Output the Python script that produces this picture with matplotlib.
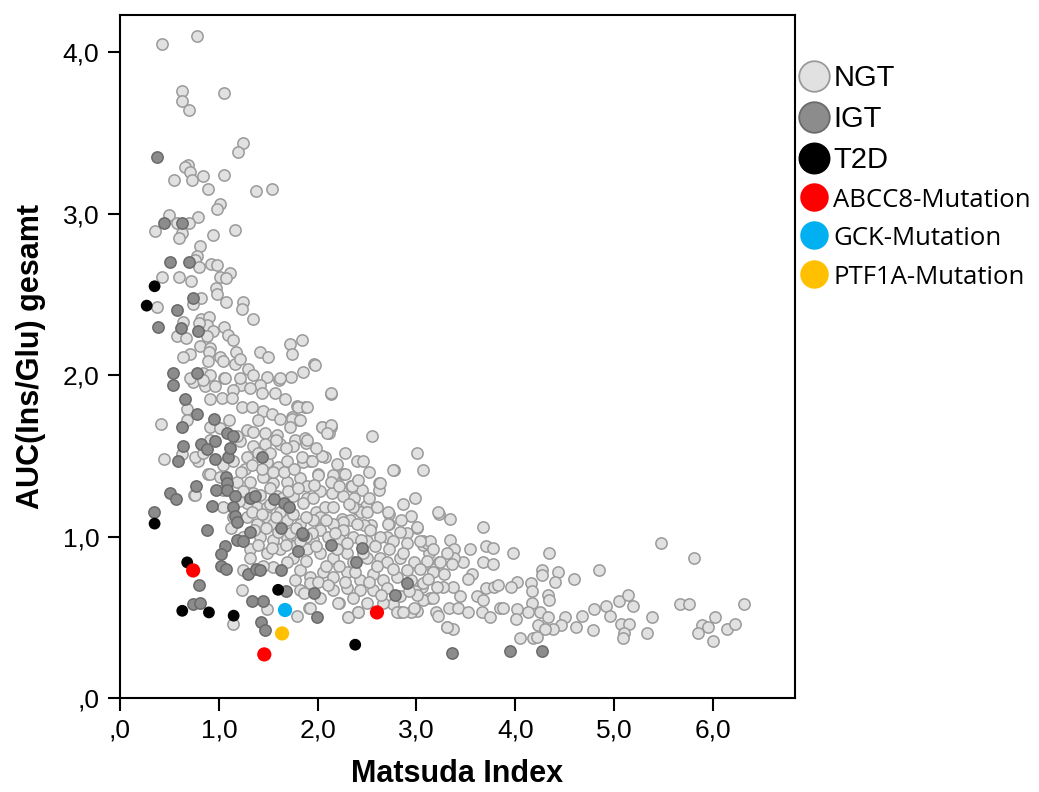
import numpy as np
import matplotlib
matplotlib.use("Agg")
import matplotlib.pyplot as plt
from matplotlib.lines import Line2D

plt.rcParams['font.family'] = ['Liberation Sans', 'DejaVu Sans']

# Daten: (Matsuda Index, AUC(Ins/Glu) gesamt)
ngt_points = [
    (0.43, 4.05), (0.78, 4.10), (0.63, 3.76), (0.63, 3.70), (0.70, 3.64), (1.05, 3.75),
    (1.24, 3.44), (1.19, 3.38), (0.69, 3.30), (0.66, 3.29), (0.71, 3.26), (0.73, 3.21),
    (0.55, 3.21), (0.84, 3.23), (1.05, 3.24), (0.89, 3.15), (1.38, 3.14), (1.54, 3.15),
    (1.01, 3.06), (0.98, 3.03), (0.50, 2.99), (0.79, 2.98), (0.35, 2.89), (0.58, 2.94),
    (0.70, 2.94), (0.63, 2.88), (0.60, 2.85), (0.94, 2.87), (1.16, 2.90), (0.81, 2.80),
    (0.78, 2.74), (0.76, 2.71), (0.80, 2.67), (0.92, 2.69), (0.98, 2.68), (1.11, 2.63),
    (1.01, 2.61), (1.07, 2.60), (0.43, 2.61), (0.60, 2.61), (0.72, 2.58), (0.97, 2.54),
    (0.98, 2.50), (0.82, 2.48), (0.74, 2.44), (1.07, 2.45), (1.24, 2.45), (1.23, 2.41),
    (0.37, 2.42), (1.35, 2.35), (0.64, 2.33), (0.82, 2.35), (0.90, 2.36), (0.88, 2.31),
    (0.80, 2.32), (1.05, 2.30), (0.58, 2.24), (0.67, 2.23), (0.94, 2.27), (0.88, 2.24),
    (1.09, 2.25), (1.14, 2.22), (0.81, 2.18), (0.91, 2.17), (0.71, 2.13), (0.64, 2.11),
    (0.90, 2.14), (0.89, 2.09), (1.01, 2.11), (1.04, 2.09), (1.17, 2.14), (1.16, 2.07),
    (1.21, 2.10), (1.42, 2.14), (1.50, 2.11), (1.72, 2.19), (1.84, 2.22), (1.74, 2.13),
    (1.96, 2.07), (1.85, 2.02), (1.73, 1.99), (1.61, 1.97), (1.49, 1.99), (1.30, 2.04),
    (1.35, 2.00), (0.84, 2.01), (0.91, 2.00), (1.05, 1.98), (0.74, 1.96), (0.86, 1.93),
    (1.22, 1.94), (1.42, 1.94), (0.41, 1.70), (0.45, 1.48), (0.75, 1.26), (0.63, 1.51),
    (0.79, 1.47), (0.89, 1.39), (0.68, 1.79),
    (2.14, 1.88), (1.79, 1.81), (1.87, 1.80), (2.04, 1.68), (2.14, 1.68), (2.11, 1.64),
    (2.55, 1.62), (3.01, 1.52), (3.07, 1.41), (2.77, 1.41), (2.40, 1.47), (2.46, 1.47),
    (2.62, 1.33), (2.62, 1.29), (2.26, 1.39), (2.18, 1.34), (2.40, 1.34), (2.34, 1.31),
    (2.45, 1.29), (2.37, 1.24), (2.04, 1.50), (2.07, 1.49), (1.92, 1.47), (1.85, 1.46),
    (2.00, 1.39), (1.77, 1.60), (1.88, 1.60), (1.88, 1.58), (1.81, 1.72), (1.74, 1.74),
    (2.49, 1.19), (2.40, 1.17), (2.44, 1.15), (2.25, 1.11), (2.33, 1.10), (2.72, 1.14),
    (2.72, 1.08), (3.23, 1.14), (3.34, 1.11), (3.01, 1.05), (2.90, 1.02), (3.34, 0.98),
    (3.67, 1.06), (3.70, 0.94), (3.54, 0.92), (3.07, 0.97), (2.54, 1.07), (2.47, 1.07),
    (2.15, 1.27), (2.02, 1.28), (1.89, 1.24), (1.98, 1.15), (2.07, 1.18), (2.26, 1.09),
    (3.77, 0.93), (3.38, 0.92), (3.67, 0.84), (3.77, 0.83), (3.47, 0.84), (3.38, 0.87),
    (3.36, 0.83), (3.23, 0.84), (3.13, 0.90), (3.07, 0.95), (3.11, 0.96), (3.17, 0.80),
    (3.17, 0.78), (3.28, 0.77), (3.56, 0.77), (3.52, 0.74), (3.70, 0.68), (3.78, 0.69),
    (3.82, 0.70), (3.61, 0.63), (3.67, 0.61), (3.44, 0.63), (3.37, 0.69), (3.27, 0.69),
    (3.14, 0.62), (3.20, 0.53), (3.33, 0.56), (3.42, 0.56), (3.52, 0.53), (3.66, 0.53),
    (3.74, 0.50), (3.84, 0.56), (3.31, 0.44), (3.37, 0.43), (3.01, 0.54), (2.94, 0.53),
    (2.83, 0.53), (2.31, 0.50), (2.41, 0.53), (2.22, 0.59), (2.76, 0.58), (3.06, 0.69),
    (2.99, 0.66), (3.07, 0.61), (1.91, 0.56),
    (3.98, 0.90), (4.34, 0.90), (4.27, 0.79), (4.27, 0.76), (4.43, 0.78), (4.40, 0.72),
    (4.59, 0.74), (4.85, 0.79), (5.47, 0.96), (5.81, 0.87), (4.02, 0.72), (3.96, 0.69),
    (4.16, 0.71), (4.17, 0.66), (4.33, 0.64), (4.34, 0.61), (4.17, 0.59), (3.88, 0.56),
    (4.02, 0.55), (4.13, 0.53), (4.25, 0.53), (4.01, 0.49), (4.33, 0.50), (4.23, 0.45),
    (4.50, 0.50), (4.46, 0.45), (4.38, 0.43), (4.30, 0.43), (4.67, 0.51), (4.61, 0.44),
    (4.80, 0.55), (4.92, 0.57), (4.96, 0.51), (5.05, 0.60), (5.14, 0.64), (5.19, 0.57),
    (4.79, 0.42), (5.07, 0.46), (5.15, 0.46), (5.10, 0.40), (5.09, 0.37), (5.38, 0.50),
    (5.33, 0.40), (5.67, 0.58), (5.76, 0.58), (6.31, 0.58), (6.02, 0.50), (5.89, 0.45),
    (5.95, 0.44), (5.85, 0.40), (6.00, 0.35), (6.14, 0.43), (6.22, 0.46), (4.05, 0.37),
    (4.18, 0.37), (4.22, 0.38),
    (0.71, 1.98), (0.84, 1.97), (1.06, 1.98), (1.21, 1.98), (1.62, 1.98), (1.97, 2.06),
    (0.96, 1.93), (1.14, 1.91), (1.32, 1.92), (1.44, 1.89), (1.57, 1.89), (1.67, 1.85),
    (1.80, 1.80), (1.89, 1.80), (2.13, 1.89), (0.91, 1.85), (1.03, 1.86), (1.13, 1.86),
    (1.23, 1.80), (1.34, 1.80), (1.45, 1.78), (1.54, 1.76), (1.62, 1.73), (1.74, 1.73),
    (1.82, 1.72), (0.68, 1.72), (0.91, 1.68), (1.01, 1.67), (1.28, 1.66), (1.35, 1.65),
    (1.47, 1.64), (1.59, 1.63), (1.72, 1.68), (1.87, 1.61), (2.04, 1.68), (2.13, 1.69),
    (2.09, 1.64), (0.91, 1.60), (1.21, 1.59), (1.35, 1.56), (1.47, 1.57), (1.62, 1.57),
    (1.75, 1.56), (1.89, 1.60), (0.76, 1.49), (0.84, 1.52), (0.91, 1.39), (1.04, 1.44),
    (1.14, 1.47), (1.28, 1.49), (1.49, 1.46), (1.60, 1.43), (1.69, 1.47), (1.84, 1.49),
    (1.94, 1.47), (2.04, 1.50), (2.16, 1.38), (2.28, 1.39), (2.76, 1.41), (1.01, 1.37),
    (1.18, 1.34), (1.32, 1.34), (1.45, 1.37), (1.55, 1.33), (1.69, 1.34), (1.82, 1.36),
    (1.89, 1.31), (2.00, 1.38), (2.13, 1.34), (2.35, 1.31), (2.41, 1.35), (2.63, 1.33),
    (0.76, 1.26), (1.04, 1.29), (1.28, 1.21), (1.35, 1.27), (1.39, 1.18), (1.49, 1.18),
    (1.59, 1.25), (1.75, 1.25), (1.85, 1.21), (1.95, 1.24), (2.02, 1.12), (2.16, 1.18),
    (2.26, 1.25), (2.36, 1.18), (2.50, 1.15), (2.60, 1.18), (2.71, 1.15), (2.71, 1.08),
    (2.94, 1.13), (3.22, 1.15), (1.04, 1.18), (1.14, 1.12), (1.28, 1.12), (1.39, 1.08),
    (1.49, 1.12), (1.55, 1.08), (1.69, 1.10), (1.82, 1.08), (1.95, 1.10), (2.16, 1.08),
    (2.26, 1.04), (2.40, 1.08), (2.53, 1.04), (2.70, 1.00), (2.83, 1.03), (3.01, 1.06),
    (3.14, 0.97), (1.24, 1.00), (1.42, 1.00), (1.55, 0.98), (1.69, 1.00), (1.95, 0.98),
    (2.02, 1.04), (2.10, 1.00), (2.23, 0.98), (2.36, 1.00), (2.50, 0.97), (2.63, 1.00),
    (2.76, 0.97), (2.90, 0.96), (3.04, 0.97), (3.17, 0.92), (3.31, 0.90), (1.32, 0.92),
    (1.49, 0.90), (1.62, 0.92), (1.75, 0.87), (1.89, 0.92), (2.02, 0.90), (2.16, 0.87),
    (2.30, 0.90), (2.36, 0.84), (2.50, 0.87), (2.63, 0.87), (2.70, 0.84), (2.83, 0.87),
    (2.97, 0.84), (3.11, 0.85), (3.24, 0.84), (1.24, 0.79), (1.55, 0.81), (1.69, 0.84),
    (1.82, 0.79), (1.92, 0.75), (2.05, 0.78), (2.16, 0.75), (2.30, 0.78), (2.43, 0.73),
    (2.56, 0.77), (2.66, 0.73), (2.80, 0.75), (2.94, 0.73), (3.07, 0.71), (3.21, 0.69),
    (1.77, 0.73), (1.82, 0.67), (1.92, 0.71), (2.16, 0.67), (2.30, 0.68), (2.43, 0.67),
    (2.56, 0.67), (2.70, 0.68), (2.83, 0.63), (3.01, 0.64), (3.17, 0.62), (1.23, 0.67),
    (1.79, 0.51), (1.92, 0.56), (2.02, 0.62), (2.21, 0.59), (2.31, 0.50), (2.41, 0.53),
    (2.50, 0.59), (2.66, 0.59), (2.80, 0.53), (2.86, 0.53), (2.97, 0.56), (3.22, 0.51),
    (3.31, 0.44), (1.14, 0.46), (1.49, 0.55), (1.86, 0.65), (1.32, 0.87), (1.45, 0.82),
    (1.12, 1.05), (1.20, 1.22), (1.26, 1.42), (1.40, 1.52), (1.52, 1.30), (1.62, 1.15),
    (1.72, 1.02), (1.78, 0.95), (1.88, 0.85), (2.08, 0.82), (2.20, 0.92), (2.28, 0.72),
    (1.10, 1.72), (1.18, 1.62), (1.40, 1.72), (1.52, 1.52), (1.64, 1.24), (1.94, 1.02),
    # dichter Kern
    (1.22, 1.40), (1.34, 1.44), (1.44, 1.42), (1.55, 1.40), (1.66, 1.40), (1.76, 1.42),
    (1.24, 1.28), (1.42, 1.26), (1.52, 1.20), (1.70, 1.28), (1.80, 1.30), (1.96, 1.32),
    (1.34, 1.15), (1.44, 1.14), (1.58, 1.12), (1.75, 1.14), (1.88, 1.12), (2.08, 1.10),
    (1.36, 1.04), (1.48, 1.05), (1.60, 1.03), (1.78, 1.05), (1.88, 1.00), (2.18, 1.02),
    (1.40, 0.95), (1.54, 0.93), (1.68, 0.95), (1.82, 0.97), (1.98, 0.94), (2.30, 0.96),
    (2.44, 0.98), (2.58, 0.94), (2.72, 0.92), (2.86, 0.90), (2.46, 0.90), (2.60, 0.82),
    (2.76, 0.80), (2.90, 0.79), (3.04, 0.80), (2.52, 0.72), (2.38, 0.78), (2.22, 0.82),
    (2.00, 0.72), (2.10, 0.70), (2.64, 0.64), (2.92, 0.66), (3.12, 0.74), (2.36, 0.62),
    (1.58, 1.60), (1.68, 1.55), (1.98, 1.55), (2.20, 1.45), (2.28, 1.52), (2.52, 1.40),
    (2.52, 1.24), (2.32, 1.20), (2.22, 1.31), (2.86, 1.20), (2.98, 1.24), (2.84, 1.10),
]

igt_points = [
    (0.37, 3.35), (0.45, 2.94), (0.63, 2.94), (0.51, 2.70), (0.70, 2.70), (0.74, 2.48),
    (0.58, 2.40), (0.38, 2.30), (0.62, 2.29), (0.79, 2.27), (0.54, 2.01), (0.78, 2.01),
    (0.54, 1.94), (0.66, 1.85), (0.78, 1.76), (0.95, 1.73), (0.63, 1.68), (0.64, 1.56),
    (0.59, 1.47), (0.82, 1.57), (0.88, 1.54), (0.96, 1.59), (0.96, 1.48), (1.09, 1.49),
    (1.11, 1.55), (1.08, 1.64), (1.14, 1.62), (1.44, 1.49), (0.51, 1.27), (0.57, 1.23),
    (0.77, 1.31), (1.07, 1.37), (1.08, 1.33), (0.97, 1.29), (1.08, 1.29), (1.16, 1.25),
    (0.93, 1.19), (1.14, 1.18), (1.16, 1.13), (1.18, 1.09), (1.32, 1.24), (1.37, 1.25),
    (1.56, 1.23), (1.66, 1.21), (1.71, 1.18), (0.34, 1.15), (0.88, 1.04), (1.32, 1.03),
    (1.63, 1.05), (1.18, 0.98), (1.24, 0.97), (1.06, 0.94), (1.02, 0.89), (1.02, 0.82),
    (1.07, 0.80), (1.30, 0.77), (1.38, 0.80), (1.42, 0.79), (1.63, 0.79), (1.80, 0.91),
    (0.80, 0.70), (0.74, 0.58), (0.81, 0.59), (1.34, 0.60), (1.45, 0.60), (1.43, 0.47),
    (1.47, 0.42), (1.68, 0.66), (1.96, 0.65), (1.99, 0.50), (1.85, 1.01), (2.14, 0.95),
    (2.45, 0.93), (2.39, 0.84), (2.90, 0.71), (2.78, 0.64), (3.36, 0.28), (3.95, 0.29),
    (4.27, 0.29), (1.84, 1.02),
]

t2d_points = [
    (0.27, 2.43), (0.35, 2.55), (0.35, 1.08), (0.68, 0.84), (0.63, 0.54), (0.90, 0.53),
    (1.15, 0.51), (1.60, 0.67), (2.38, 0.33),
]

abcc8_points = [(0.74, 0.79), (1.46, 0.27), (2.60, 0.53)]
gck_points = [(1.67, 0.545)]
ptf1a_points = [(1.64, 0.40)]

x_ticks = [0, 1, 2, 3, 4, 5, 6]
x_tick_labels = [',0', '1,0', '2,0', '3,0', '4,0', '5,0', '6,0']
y_ticks = [0, 1, 2, 3, 4]
y_tick_labels = [',0', '1,0', '2,0', '3,0', '4,0']

fig = plt.figure(figsize=(10.39, 7.92), dpi=100)
ax = fig.add_axes([120 / 1039, 1 - 698 / 792, 675 / 1039, 683 / 792])

ngt = np.array(ngt_points)
igt = np.array(igt_points)
t2d = np.array(t2d_points)
abcc8 = np.array(abcc8_points)
gck = np.array(gck_points)
ptf1a = np.array(ptf1a_points)

ax.scatter(ngt[:, 0], ngt[:, 1], s=66, c='#e1e1e1', edgecolors='#9a9a9a', linewidths=1.1, zorder=2)
ax.scatter(igt[:, 0], igt[:, 1], s=66, c='#8c8c8c', edgecolors='#6a6a6a', linewidths=1.1, zorder=3)
ax.scatter(t2d[:, 0], t2d[:, 1], s=72, c='black', edgecolors='none', zorder=4)
ax.scatter(abcc8[:, 0], abcc8[:, 1], s=105, c='#ff0000', edgecolors='none', zorder=5)
ax.scatter(gck[:, 0], gck[:, 1], s=105, c='#00b0f0', edgecolors='none', zorder=5)
ax.scatter(ptf1a[:, 0], ptf1a[:, 1], s=105, c='#ffc000', edgecolors='none', zorder=5)

ax.set_xlim(0, 6.83)
ax.set_ylim(0, 4.23)
ax.set_xticks(x_ticks)
ax.set_xticklabels(x_tick_labels)
ax.set_yticks(y_ticks)
ax.set_yticklabels(y_tick_labels)
ax.tick_params(direction='out', length=9, width=1.5, labelsize=19, pad=6)
for sp in ax.spines.values():
    sp.set_linewidth(1.5)

ax.set_xlabel('Matsuda Index', fontsize=22, fontweight='bold', labelpad=12)
ax.set_ylabel('AUC(Ins/Glu) gesamt', fontsize=22, fontweight='bold', labelpad=12)

# Legende
handles = [
    Line2D([], [], ls='', marker='o', ms=22, mfc='#e1e1e1', mec='#9a9a9a', mew=1.3),
    Line2D([], [], ls='', marker='o', ms=22, mfc='#8c8c8c', mec='#6a6a6a', mew=1.3),
    Line2D([], [], ls='', marker='o', ms=22, mfc='black', mec='black'),
    Line2D([], [], ls='', marker='o', ms=20.5, mfc='#ff0000', mec='none'),
    Line2D([], [], ls='', marker='o', ms=20.5, mfc='#00b0f0', mec='none'),
    Line2D([], [], ls='', marker='o', ms=20.5, mfc='#ffc000', mec='none'),
]
labels = ['NGT', 'IGT', 'T2D', 'ABCC8-Mutation', 'GCK-Mutation', 'PTF1A-Mutation']
leg = fig.legend(handles, labels, loc='upper left', bbox_to_anchor=(800 / 1039, 1 - 64 / 792),
                 frameon=False, handlelength=1.0, handletextpad=0.2, labelspacing=0.47,
                 borderaxespad=0, borderpad=0, fontsize=20)
for i, t in enumerate(leg.get_texts()):
    if i < 3:
        t.set_fontfamily(['Liberation Sans', 'DejaVu Sans'])
        t.set_fontsize(21)
    else:
        t.set_fontfamily(['Open Sans', 'DejaVu Sans'])
        t.set_fontsize(18.5)

fig.savefig('out.png', dpi=100)
